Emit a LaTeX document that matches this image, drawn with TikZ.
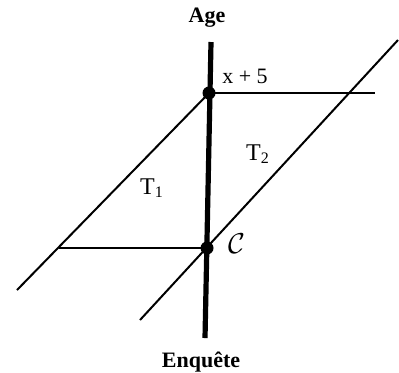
\documentclass[tikz,border=0pt]{standalone}
\usepackage{fontspec}
\setmainfont{Liberation Serif}
\usetikzlibrary{positioning, calc}

\begin{document}
\begin{tikzpicture}[
            x=0.5pt, y=-0.5pt,
            axe/.style={line width=2.6pt},
            trait/.style={line width=1pt},
            point/.style={circle, fill=black, inner sep=0pt, minimum size=6.5pt},
            lab/.style={font=\fontsize{11}{13}\selectfont}
        ]
            \useasboundingbox (0,0) rectangle (399,372);

            % points principaux
            \node[point] (top) at (209,93) {};
            \node[point] (bas) at (207,248) {};
            \coordinate (haut) at (211,42);
            \coordinate (pied) at (205,338);
            \coordinate (fin) at (375,93);
            \coordinate (debut) at (59,248);
            \coordinate (g1) at (17,290);
            \coordinate (d1) at (140,320);
            \coordinate (d2) at (398,40);

            % axe vertical
            \draw[axe] (haut) -- (pied);

            % diagonales et horizontales
            \draw[trait] (g1) -- (top.center);
            \draw[trait] (d1) -- (d2);
            \draw[trait] (top.center) -- (fin);
            \draw[trait] (debut) -- (bas.center);

            % textes
            \node[lab, font=\fontsize{11}{13}\selectfont\bfseries] (age) at (207,18) {Age};
            \node[lab, font=\fontsize{11}{13}\selectfont\bfseries] (enq) at (201,362) {Enquête};
            \node[lab] (x5) at (245,76) {x + 5};
            \node[lab, font=\fontsize{12}{14}\selectfont] (t1) at (152,188) {T\textsubscript{1}};
            \node[lab, font=\fontsize{12}{14}\selectfont] (t2) at (258,154) {T\textsubscript{2}};
            \node[lab, font=\fontsize{15}{17}\selectfont] (c) at (237,244) {$\mathcal{C}$};
          \end{tikzpicture}
\end{document}
